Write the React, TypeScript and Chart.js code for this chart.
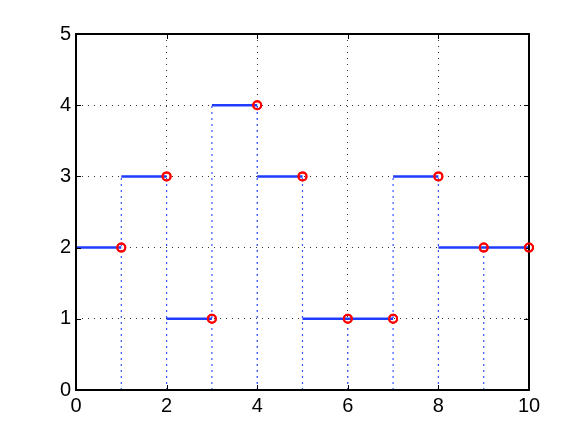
import React, { useEffect, useRef } from "react";
import { Chart, registerables } from "chart.js";

Chart.register(...registerables);

// Sample positions and values (red circles)
const xValues = [1, 2, 3, 4, 5, 6, 7, 8, 9, 10];
const yValues = [2, 3, 1, 4, 3, 1, 1, 3, 2, 2];
// Dotted blue stems at x = 1..9, from 0 up to these heights
const stemX = [1, 2, 3, 4, 5, 6, 7, 8, 9];
const stemTops = [3, 3, 4, 4, 3, 1, 3, 3, 2];
// Tick labels
const xTicks = [0, 2, 4, 6, 8, 10];
const yTicks = [0, 1, 2, 3, 4, 5];

const FONT = "'Liberation Sans', Arial, Helvetica, sans-serif";

const framePlugin = {
  id: "frameTicks",
  afterDraw(chart: any) {
    const { ctx, chartArea } = chart;
    const { left, right, top, bottom } = chartArea;
    const xs = chart.scales.x;
    const ys = chart.scales.y;
    const len = 5;
    ctx.save();
    ctx.strokeStyle = "#000";
    ctx.lineWidth = 1;
    ctx.beginPath();
    xTicks.forEach((v) => {
      const px = Math.round(xs.getPixelForValue(v)) + 0.5;
      ctx.moveTo(px, bottom);
      ctx.lineTo(px, bottom - len);
      ctx.moveTo(px, top);
      ctx.lineTo(px, top + len);
    });
    yTicks.forEach((v) => {
      const py = Math.round(ys.getPixelForValue(v)) + 0.5;
      ctx.moveTo(left, py);
      ctx.lineTo(left + len, py);
      ctx.moveTo(right, py);
      ctx.lineTo(right - len, py);
    });
    ctx.stroke();
    ctx.lineWidth = 2;
    ctx.strokeRect(left, top, right - left, bottom - top);
    ctx.restore();
  },
};

const circlePlugin = {
  id: "circlesOnTop",
  afterDraw(chart: any) {
    // redraw sample circles above the frame (they are not clipped in the reference)
    const meta = chart.getDatasetMeta(0);
    const { ctx } = chart;
    ctx.save();
    ctx.strokeStyle = "#ff0000";
    ctx.lineWidth = 2;
    meta.data.forEach((el: any) => {
      ctx.beginPath();
      ctx.arc(el.x, el.y, 4, 0, Math.PI * 2);
      ctx.stroke();
    });
    ctx.restore();
  },
};

export default function App() {
  const ref = useRef<HTMLCanvasElement | null>(null);

  useEffect(() => {
    document.body.style.margin = "0";
    const canvas = ref.current;
    if (!canvas) return;

    const stepData: any[] = [];
    xValues.forEach((x, i) => {
      const prev = i === 0 ? 0 : xValues[i - 1];
      stepData.push({ x: prev, y: yValues[i] });
      stepData.push({ x, y: yValues[i] });
      stepData.push({ x, y: null });
    });
    const stemData: any[] = [];
    stemX.forEach((x, i) => {
      stemData.push({ x, y: 0 });
      stemData.push({ x, y: stemTops[i] });
      stemData.push({ x, y: null });
    });
    const pointData = xValues.map((x, i) => ({ x, y: yValues[i] }));

    const chart = new Chart(canvas, {
      type: "line",
      data: {
        datasets: [
          {
            type: "scatter",
            data: pointData,
            showLine: false,
            clip: false,
            pointRadius: 4,
            pointBorderWidth: 2,
            pointBorderColor: "#ff0000",
            pointBackgroundColor: "rgba(0,0,0,0)",
          } as any,
          {
            data: stepData,
            borderColor: "#1f3cff",
            borderWidth: 2.5,
            pointRadius: 0,
            spanGaps: false,
            fill: false,
          },
          {
            data: stemData,
            borderColor: "#3355ff",
            borderWidth: 1.2,
            borderDash: [2, 4],
            pointRadius: 0,
            spanGaps: false,
            fill: false,
          },
        ],
      },
      options: {
        animation: false,
        responsive: false,
        maintainAspectRatio: false,
        layout: { padding: { top: 34, right: 55, left: 0, bottom: 0 } },
        plugins: { legend: { display: false }, tooltip: { enabled: false } },
        scales: {
          x: {
            type: "linear",
            min: 0,
            max: 10,
            afterFit: (s: any) => {
              s.height = 49;
            },
            afterBuildTicks: (s: any) => {
              s.ticks = xTicks.map((v) => ({ value: v }));
            },
            ticks: {
              padding: 4,
              color: "#000",
              font: { family: FONT, size: 20 },
              maxRotation: 0,
            },
            grid: {
              color: "#333",
              lineWidth: 1,
              drawTicks: false,
            },
            border: { display: false, dash: [1, 5] },
          },
          y: {
            type: "linear",
            min: 0,
            max: 5,
            afterFit: (s: any) => {
              s.width = 76;
            },
            afterBuildTicks: (s: any) => {
              s.ticks = yTicks.map((v) => ({ value: v }));
            },
            ticks: {
              padding: 5,
              color: "#000",
              font: { family: FONT, size: 20 },
            },
            grid: {
              color: "#333",
              lineWidth: 1,
              drawTicks: false,
            },
            border: { display: false, dash: [1, 5] },
          },
        },
      },
      plugins: [framePlugin, circlePlugin],
    });

    return () => chart.destroy();
  }, []);

  return (
    <div style={{ width: 584, height: 439, background: "#fff" }}>
      <canvas ref={ref} width={584} height={439} />
    </div>
  );
}
